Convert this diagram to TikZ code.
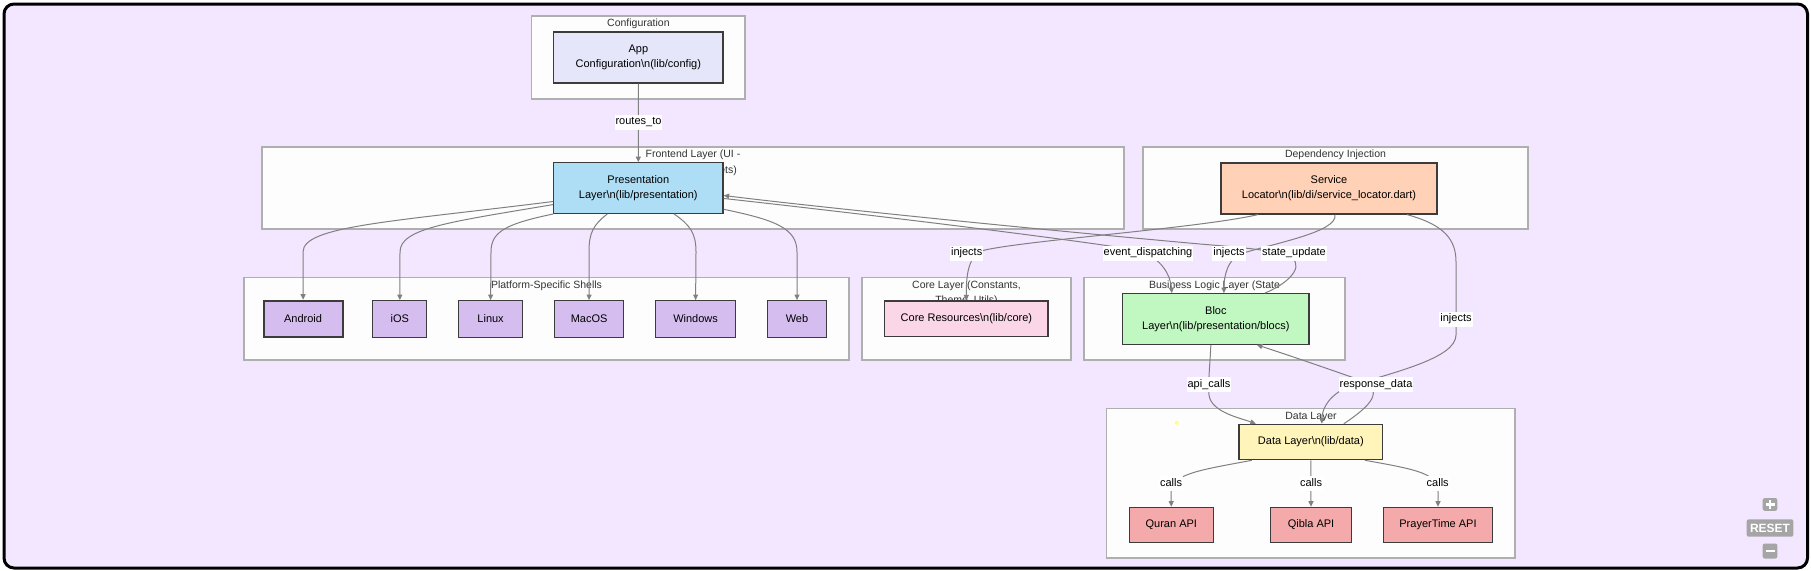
\documentclass[tikz,border=0pt]{standalone}
\usepackage{fontspec}
\setmainfont{Liberation Sans}
\usetikzlibrary{arrows.meta}
\definecolor{bgc}{RGB}{243,230,255}
\definecolor{clfill}{RGB}{253,253,253}
\definecolor{cldraw}{RGB}{175,175,175}
\definecolor{nddraw}{RGB}{60,60,60}
\definecolor{edgec}{RGB}{128,128,128}
\definecolor{appc}{RGB}{230,230,250}
\definecolor{presc}{RGB}{173,222,245}
\definecolor{svcc}{RGB}{255,209,182}
\definecolor{platc}{RGB}{213,190,239}
\definecolor{corec}{RGB}{251,214,230}
\definecolor{blocc}{RGB}{193,247,193}
\definecolor{datac}{RGB}{255,245,186}
\definecolor{apic}{RGB}{244,170,170}
\definecolor{titlec}{RGB}{51,51,51}
\definecolor{btnc}{RGB}{165,165,165}
\definecolor{dotc}{RGB}{255,255,130}
\begin{document}
\begin{tikzpicture}[x=1pt,y=-1pt,
  clusterbox/.style={draw=cldraw, fill=clfill, line width=1.4pt, inner sep=0pt},
  ctitle/.style={font=\fontsize{10.5}{14}\selectfont, text=titlec, inner sep=0pt, align=center},
  nd/.style={draw=nddraw, line width=1.2pt, inner sep=0pt, align=center,
    font=\fontsize{11}{15}\selectfont, minimum height=36pt},
  tall/.style={minimum height=51pt},
  edge/.style={draw=edgec, line width=1pt, -{Triangle[length=5.5pt,width=5pt]}},
  lbl/.style={fill=white, inner xsep=1pt, inner ysep=2pt, text height=8pt, text depth=3pt,
    font=\fontsize{11}{13}\selectfont},
  btn/.style={fill=btnc, rounded corners=2pt, inner sep=0pt}
]
\useasboundingbox (0,0) rectangle (1811,570);
\draw[line width=3pt, fill=bgc, rounded corners=10pt] (4,4) rectangle (1807.5,568);

% clusters
\node[clusterbox, minimum width=213.3pt, minimum height=83pt] (cconfig) at (638.35,57.5) {};
\node[clusterbox, minimum width=862pt, minimum height=82pt] (cfront) at (693,188) {};
\node[clusterbox, minimum width=385pt, minimum height=82pt] (cdi) at (1335.5,188) {};
\node[clusterbox, minimum width=605pt, minimum height=82.3pt] (cplat) at (546.5,318.85) {};
\node[clusterbox, minimum width=209pt, minimum height=82.3pt] (ccore) at (966.5,318.85) {};
\node[clusterbox, minimum width=261pt, minimum height=82.3pt] (cbiz) at (1214.5,318.85) {};
\node[clusterbox, minimum width=408.3pt, minimum height=149.3pt] (cdata) at (1310.85,483.35) {};

% cluster titles
\node[ctitle] (tconfig) at (638.4,24) {Configuration};
\node[ctitle] (tfront) at (693,155) {Frontend Layer (UI -};
\node[ctitle, anchor=east] (tfront2) at (737,171) {Widgets)};
\node[ctitle] (tdi) at (1335.5,155) {Dependency Injection};
\node[ctitle] (tplat) at (546.5,286) {Platform-Specific Shells};
\node[ctitle] (tcore) at (966.5,286) {Core Layer (Constants,};
\node[ctitle] (tcore2) at (966.5,301) {Theme, Utils)};
\node[ctitle] (tbiz) at (1214.5,286) {Business Logic Layer (State};
\node[ctitle] (tdata) at (1311,417) {Data Layer};

% nodes
\node[nd, tall, fill=appc, minimum width=169.3pt] (app) at (638.35,57.5) {App\\Configuration\textbackslash n(lib/config)};
\node[nd, tall, fill=presc, minimum width=169.4pt, minimum height=50.6pt] (pres) at (638.3,188) {Presentation\\Layer\textbackslash n(lib/presentation)};
\node[nd, tall, fill=svcc, minimum width=216pt] (svc) at (1329,188.5) {Service\\Locator\textbackslash n(lib/di/service\_locator.dart)};
\node[nd, fill=platc, minimum width=79pt, minimum height=36.6pt, line width=2pt] (android) at (303.1,319) {Android};
\node[nd, fill=platc, minimum width=54pt, minimum height=36.6pt] (ios) at (399.8,319) {iOS};
\node[nd, fill=platc, minimum width=64pt, minimum height=36.6pt] (linux) at (490.6,319) {Linux};
\node[nd, fill=platc, minimum width=69pt, minimum height=36.6pt] (macos) at (589.1,319) {MacOS};
\node[nd, fill=platc, minimum width=80pt, minimum height=36.6pt] (windows) at (695.6,319) {Windows};
\node[nd, fill=platc, minimum width=59pt, minimum height=36.6pt] (web) at (797,319) {Web};
\node[nd, fill=corec, minimum width=163.3pt, minimum height=35.7pt] (core) at (966.4,318.85) {Core Resources\textbackslash n(lib/core)};
\node[nd, tall, fill=blocc, minimum width=186.3pt, minimum height=50.6pt] (bloc) at (1215.85,319) {Bloc\\Layer\textbackslash n(lib/presentation/blocs)};
\node[nd, fill=datac, minimum width=143.7pt, minimum height=35.4pt] (data) at (1310.85,442) {Data Layer\textbackslash n(lib/data)};
\node[nd, fill=apic, minimum width=84pt, minimum height=35.4pt] (quran) at (1171.3,525) {Quran API};
\node[nd, fill=apic, minimum width=80.6pt, minimum height=35.4pt] (qibla) at (1311,525) {Qibla API};
\node[nd, fill=apic, minimum width=109.4pt, minimum height=35.4pt] (prayer) at (1438,525) {PrayerTime API};
\node[circle, fill=dotc, inner sep=0pt, minimum size=4pt] (dot) at (1176.7,422.7) {};

% edges
\draw[edge] (app.south) -- (pres.north);
\draw[edge] (pres.189) .. controls (390,222) and (303,226) .. (303,252) -- (android.north);
\draw[edge] (pres.191) .. controls (450,222) and (400,228) .. (400,252) -- (ios.north);
\draw[edge] (pres.197) .. controls (505,224) and (491,232) .. (491,252) -- (linux.north);
\draw[edge] (pres.220) .. controls (593,225) and (589,233) .. (589,252) -- (macos.north);
\draw[edge] (pres.324) .. controls (690,225) and (696,233) .. (696,252) -- (windows.north);
\draw[edge] (pres.346) .. controls (775,220) and (797,228) .. (797,252) -- (web.north);
\draw[edge] (pres.353) .. controls (900,218) and (1090,242) .. (1135,250) .. controls (1158,255) and (1170,272) .. ([xshift=-44pt]bloc.north);
\draw[edge] ([xshift=49pt]bloc.north) .. controls (1292,282) and (1308,262) .. (1285,255) .. controls (1265,249) and (1235,247) .. (1200,244) .. controls (1000,226) and (800,205) .. (pres.355);
\draw[edge] ([xshift=6pt]svc.south) .. controls (1338,232) and (1275,243) .. (1240,254) .. controls (1228,260) and (1224,275) .. ([xshift=8pt]bloc.north);
\draw[edge] ([xshift=-71pt]svc.south) .. controls (1200,228) and (1030,240) .. (985,250) .. controls (970,254) and (966,270) .. (core.north);
\draw[edge] ([xshift=78pt]svc.south) .. controls (1445,225) and (1456,240) .. (1456,262) -- (1456,335) .. controls (1456,358) and (1395,372) .. (1350,386) .. controls (1330,394) and (1322,408) .. ([xshift=11pt]data.north);
\draw[edge] ([xshift=33pt]data.north) .. controls (1372,405) and (1385,390) .. (1360,380) .. controls (1320,366) and (1285,354) .. ([xshift=41pt]bloc.south);
\draw[edge] ([xshift=-5pt]bloc.south) .. controls (1210,365) and (1208,380) .. (1209,395) .. controls (1211,412) and (1240,418) .. ([xshift=-55pt]data.north);
\draw[edge] ([xshift=-59pt]data.south) .. controls (1200,470) and (1171,474) .. (1171,492) -- (quran.north);
\draw[edge] (data.south) -- (qibla.north);
\draw[edge] ([xshift=54pt]data.south) .. controls (1420,470) and (1438,474) .. (1438,492) -- (prayer.north);

% edge labels
\node[lbl] (l1) at (638.5,122) {routes\_to};
\node[lbl] (l2) at (966.7,253.3) {injects};
\node[lbl] (l3) at (1148,253.3) {event\_dispatching};
\node[lbl] (l4) at (1229,253.3) {injects};
\node[lbl] (l5) at (1294,253.3) {state\_update};
\node[lbl] (l6) at (1456,319) {injects};
\node[lbl] (l7) at (1209,384.7) {api\_calls};
\node[lbl] (l8) at (1376,384.7) {response\_data};
\node[lbl] (l9) at (1171,483.7) {calls};
\node[lbl] (l10) at (1311,483.7) {calls};
\node[lbl] (l11) at (1437.7,483.7) {calls};

% zoom controls
\node[btn, minimum width=14.6pt, minimum height=12.7pt] (bplus) at (1770,504.4) {};
\draw[white, line width=2.2pt] ([xshift=-4.5pt]bplus.center) -- ([xshift=4.5pt]bplus.center);
\draw[white, line width=2.2pt] ([yshift=-4.5pt]bplus.center) -- ([yshift=4.5pt]bplus.center);
\node[btn, minimum width=46.6pt, minimum height=17.4pt, text=white, font=\fontsize{12}{12}\selectfont\bfseries] (breset) at (1770,528) {RESET};
\node[btn, minimum width=14.6pt, minimum height=15pt] (bminus) at (1770,551) {};
\draw[white, line width=2.2pt] ([xshift=-4.5pt]bminus.center) -- ([xshift=4.5pt]bminus.center);
\end{tikzpicture}
\end{document}
